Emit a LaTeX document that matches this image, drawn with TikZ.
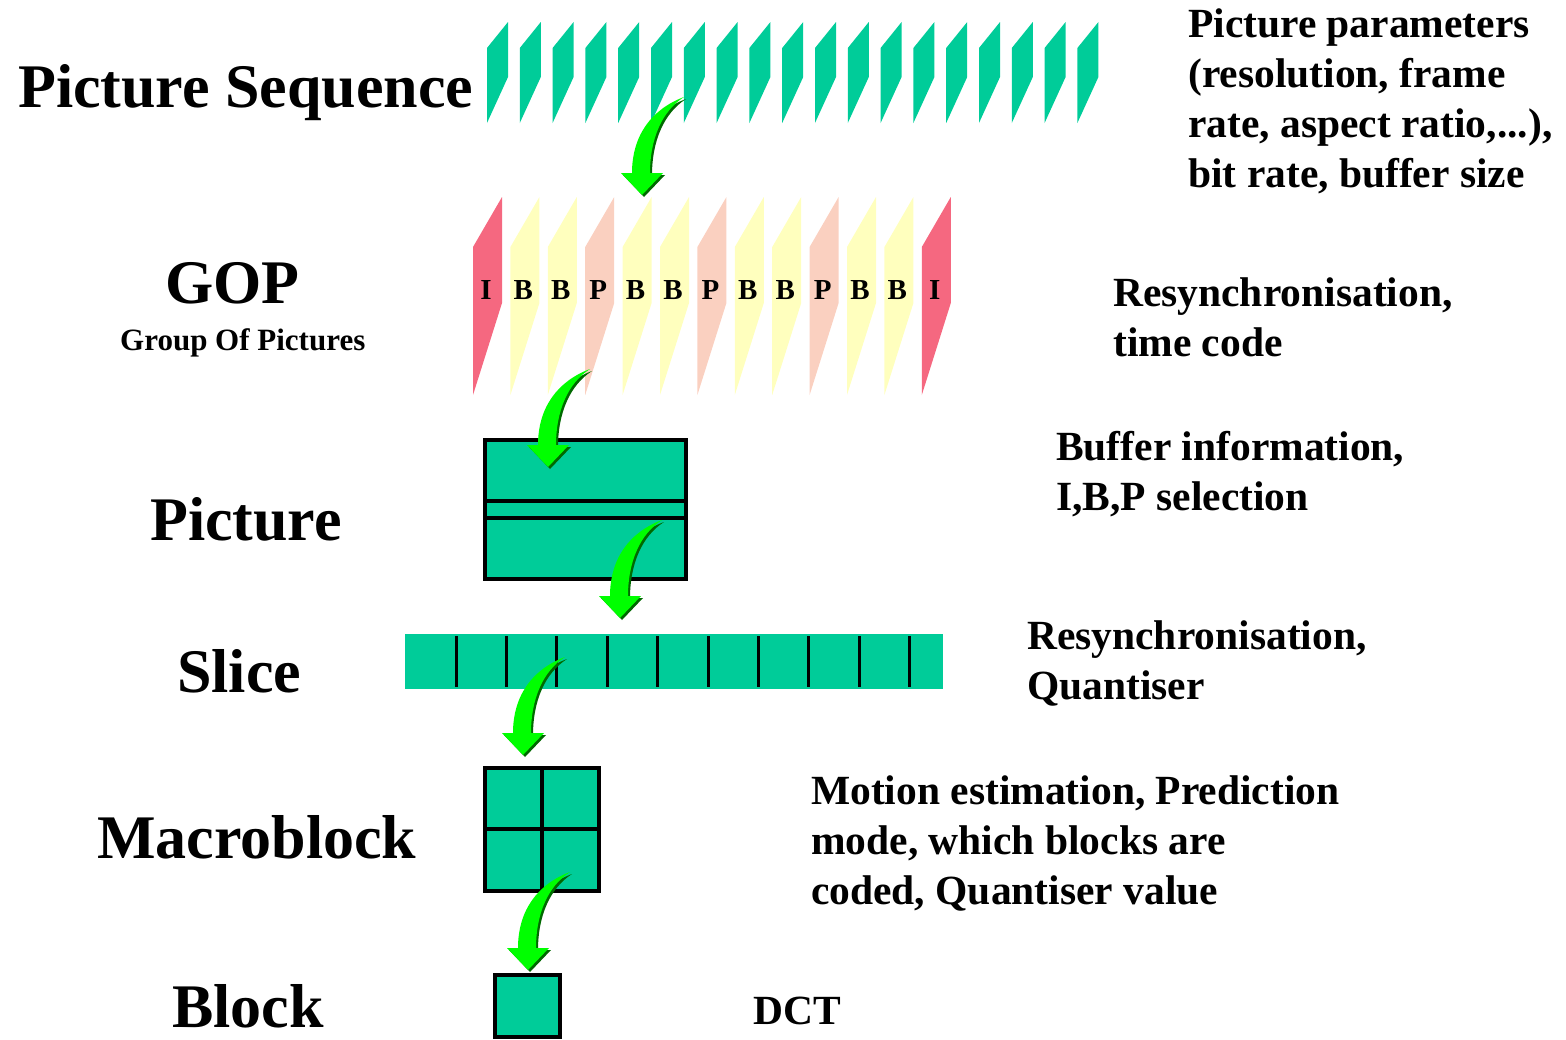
\documentclass[tikz,border=0pt]{standalone}
\usepackage{fontspec}
\setmainfont{Liberation Serif}

\definecolor{seqteal}{RGB}{0,204,153}
\definecolor{frameI}{RGB}{245,104,128}
\definecolor{frameB}{RGB}{255,255,190}
\definecolor{frameP}{RGB}{250,208,192}
\definecolor{arrowgreen}{RGB}{0,255,0}
\definecolor{arrowshade}{RGB}{0,105,0}

% curved green arrow, argument = tip of the arrow
\newcommand{\bendarrow}[1]{%
  \begin{scope}[shift={#1}]
    \fill[arrowshade] (2,2) -- (-19,-20) -- (-8,-20) .. controls (-8,-58) and (12,-84) .. (44,-96)
      .. controls (22,-82) and (10,-54) .. (10,-20) -- (23,-20) -- cycle;
    \fill[arrowgreen] (0,0) -- (-21,-22) -- (-10,-22) .. controls (-10,-60) and (10,-86) .. (42,-98)
      .. controls (20,-84) and (8,-56) .. (8,-22) -- (21,-22) -- cycle;
  \end{scope}}

\begin{document}
\begin{tikzpicture}[x=1pt,y=-1pt,
    biglabel/.style={font=\fontsize{62}{70}\selectfont\bfseries, anchor=base west, inner sep=0pt},
    infotext/.style={font=\fontsize{41.5}{50}\selectfont\bfseries, anchor=base west, align=left, inner sep=0pt},
    framelabel/.style={font=\fontsize{29}{30}\selectfont\bfseries, inner sep=0pt},
    blockbox/.style={draw=black, line width=4pt, fill=seqteal}]
  \useasboundingbox (0,0) rectangle (1566,1039);

  % picture sequence
  \foreach \i in {0,...,18}
    \fill[seqteal] ({487+32.8*\i},123) -- ++(0,-75) -- ++(21,-26) -- ++(0,55) -- cycle;

  % group of pictures
  \foreach \t [count=\i from 0] in {I,B,B,P,B,B,P,B,B,P,B,B,I} {
    \fill[fill=frame\t] ({473+37.4*\i},395) -- ++(0,-148) -- ++(29,-50) -- ++(0,106) -- cycle;
    \node[framelabel] (f\i) at ({486+37.4*\i},290) {\t};
  }

  % picture
  \draw[blockbox] (485,440) rectangle (686,579);
  \draw[line width=4pt] (485,501) -- (686,501);
  \draw[line width=4pt] (485,518) -- (686,518);

  % slice
  \fill[seqteal] (405,634) rectangle (943,689);
  \foreach \k in {0,...,9}
    \draw[line width=3pt] ({456+50.4*\k},636) -- ++(0,51);

  % macroblock
  \draw[blockbox] (485,768) rectangle (599,891);
  \draw[line width=4pt] (542,768) -- (542,891);
  \draw[line width=4pt] (485,829) -- (599,829);

  % block
  \draw[blockbox] (495,975) rectangle (560,1037);

  % arrows
  \bendarrow{(642,195)}
  \bendarrow{(548,467)}
  \bendarrow{(620,618)}
  \bendarrow{(523,755)}
  \bendarrow{(528,970)}

  % labels
  \node[biglabel] (seq) at (18,107) {Picture Sequence};
  \node[biglabel] (gop) at (165,303) {GOP};
  \node[font=\fontsize{31}{34}\selectfont\bfseries, anchor=base west, inner sep=0pt] (gopname) at (120,350) {Group Of Pictures};
  \node[biglabel] (pic) at (150,540) {Picture};
  \node[biglabel] (slice) at (177,692) {Slice};
  \node[biglabel] (mblock) at (97,858) {Macroblock};
  \node[biglabel] (block) at (172,1027) {Block};

  % descriptions (anchored at the last line)
  \node[infotext] (seqinfo) at (1188,187) {Picture parameters\\(resolution, frame\\rate, aspect ratio,...),\\bit rate, buffer size};
  \node[infotext] (gopinfo) at (1113,356) {Resynchronisation,\\time code};
  \node[infotext] (picinfo) at (1056,510) {Buffer information,\\I,B,P selection};
  \node[infotext] (sliceinfo) at (1027,699) {Resynchronisation,\\Quantiser};
  \node[infotext] (mbinfo) at (811,904) {Motion estimation, Prediction\\mode, which blocks are\\coded, Quantiser value};
  \node[infotext] (blockinfo) at (753,1024) {DCT};
\end{tikzpicture}
\end{document}
